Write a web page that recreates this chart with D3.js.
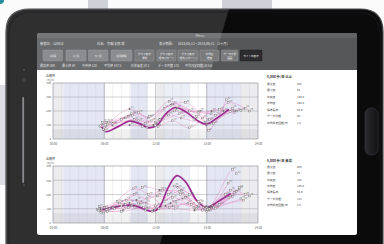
<!DOCTYPE html>
<html><head><meta charset="utf-8">
<script src="https://cdn.jsdelivr.net/npm/d3@7"></script>
<style>html,body{margin:0;padding:0;background:#fff;overflow:hidden}svg{display:block}text{font-family:"Noto Sans CJK JP","Noto Sans",sans-serif}</style>
</head><body><svg id="c" width="384" height="244"></svg>
<script>
// ---------- data ----------
const tickHours = [0, 6, 12, 18, 24];
const hourLabels = ["00:00", "06:00", "12:00", "18:00", "24:00"];
const yTickValues = [0, 100, 200, 300, 400];

const headerRow1 = [["患者ID:", 40], ["120812", 53], ["氏名:", 97], ["宗親 太郎 様", 107], ["表示期間:", 159], ["2013/05/11 ~ 2013/06/11 （1ヶ月）", 178]];
const buttonLabels = [["1週間"], ["1ヶ月"], ["3ヶ月"], ["任意期間"], ["グラフ表示", "通常"], ["グラフ表示", "曜日パターン"], ["グラフ表示", "曜日(パターン)"], ["平均値", "推移"], ["データ分析", "画面"], ["ラインの表示"]];
const summaryLabels = ["最高値 269", "最小値 34", "中央値 120", "平均値 147.5", "標準偏差 57.2", "データ件数 173", "平均測定回数/日 5.6"];

const statLabels = ["最大値", "最小値", "中央値", "平均値", "標準偏差", "データ件数", "平均測定回数/日"];
const stats1Title = "6,000 歩/日 以上";
const stats1Values = ["283", "54", "140.0", "150.0", "62.0", "60", "1.8"];
const stats2Title = "6,000 歩/日 未満";
const stats2Values = ["269", "54", "123", "146.8", "64.0", "113", "3.6"];

const bandHours = [0, 1.2, 6.1, 9.1, 11.1, 12.1, 13.1, 16, 17.9, 22, 24];
const bandKinds = ["g", "l", "w", "l", "w", "g", "l2", "w", "l", "g"];

const avg1 = [[5.7, 88], [6.2, 52], [7.5, 85], [9.0, 127], [10.2, 108], [11.2, 80], [12.2, 100], [13.2, 180], [14.3, 225], [15.6, 192], [17.0, 128], [18.0, 106], [19.2, 150], [20.6, 212]];
const thin1 = [
  [[5.5, 90], [6.5, 120], [9, 215], [11.2, 150], [13.6, 270], [16, 200], [18.5, 180]],
  [[5.8, 120], [7, 100], [9.3, 170], [11.5, 130], [14, 250], [17, 190], [19.5, 210], [21.5, 200]],
  [[6.2, 120], [8, 140], [10, 190], [12, 95], [14.5, 220], [17.5, 150], [18.2, 60], [20.3, 280]],
  [[6, 80], [9, 100], [10.5, 90], [11.8, 100], [13.5, 170], [15, 150], [17.8, 120], [20, 200], [22, 205]],
  [[5.9, 70], [8.5, 150], [11, 80], [12.5, 140], [14.2, 200], [16.5, 140], [18, 100], [21, 220]],
  [[6.4, 100], [9.5, 140], [12, 120], [14.8, 180], [17.2, 200], [19, 170], [22.5, 220]],
  [[6.1, 60], [9.2, 180], [11.3, 160], [13, 220], [15.5, 260], [18.3, 140], [20.8, 195]],
  [[7, 110], [10, 130], [12.3, 90], [14, 130], [16, 80], [18.6, 200], [21.2, 190]],
  [[5.6, 95], [8.8, 160], [10.8, 110], [13.8, 240], [16.8, 160], [18.8, 110], [20.5, 260], [23, 200]]
];

const avg2 = [[5.5, 95], [6.3, 100], [7.8, 118], [9.0, 125], [10.2, 110], [11.6, 82], [12.4, 105], [13.5, 250], [14.5, 332], [15.5, 290], [16.8, 160], [18.0, 108], [19.3, 150], [20.8, 207]];
const thin2 = [
  [[5.2, 95], [7, 110], [9.5, 200], [11, 170], [14.2, 260], [16, 200], [18, 100], [21, 375], [21.5, 345]],
  [[5.5, 85], [8, 120], [10.5, 250], [12.5, 230], [14.8, 220], [17, 120], [18.2, 95], [20.5, 280]],
  [[5.7, 100], [7.5, 150], [9.8, 160], [12, 120], [14, 180], [16.5, 110], [18.4, 90], [21.8, 240]],
  [[5.9, 70], [8.5, 130], [10.8, 90], [13, 150], [15, 230], [17.2, 140], [18, 110], [20.8, 230], [22.5, 200]],
  [[6.0, 110], [9, 140], [11.6, 80], [13.5, 200], [14.6, 250], [16.8, 100], [18.6, 120], [21.2, 215]],
  [[6.2, 90], [8.8, 110], [10.2, 130], [12.2, 190], [14.4, 150], [17.5, 90], [19, 100], [21.5, 220]],
  [[5.4, 115], [7.2, 100], [9.2, 120], [11, 100], [13.8, 140], [15.5, 180], [18, 80], [20.2, 200], [23, 190]],
  [[6.4, 80], [8.2, 90], [10, 140], [12.8, 230], [14.9, 200], [17, 150], [18.8, 110], [22, 170]],
  [[5.6, 75], [7.8, 140], [9.6, 110], [11.8, 90], [14.1, 120], [16.2, 130], [18.1, 95], [21.8, 250]],
  [[6.6, 100], [9.4, 240], [11.2, 200], [13.2, 120], [15.2, 170], [17.8, 100], [20.6, 180]],
  [[5.3, 90], [8, 80], [10.6, 110], [12.4, 100], [14.3, 100], [16.6, 90], [18.3, 100], [21, 185]],
  [[6.3, 95], [8.6, 160], [10.9, 140], [13.6, 110], [15.8, 140], [17.6, 110], [19.5, 130], [22.3, 160]]
];

// ---------- drawing ----------
const svg = d3.select("#c");
const defs = svg.append("defs");

// photo background
svg.append("rect").attr("width", 384).attr("height", 244).attr("fill", "#fbfbfc");
svg.append("rect").attr("x", 88).attr("y", 0).attr("width", 20).attr("height", 14).attr("fill", "#cfd0d8");
svg.append("rect").attr("x", 222).attr("y", 0).attr("width", 50).attr("height", 14).attr("fill", "#cfd0d8");
svg.append("rect").attr("x", 0).attr("y", 85).attr("width", 8).attr("height", 100).attr("fill", "#dcdde3");
svg.append("circle").attr("cx", 0).attr("cy", 0).attr("r", 4).attr("fill", "#2a8aa0");

// tablet body
const bodyPath = "M30,9 L360,9 Q383,9 383,32 L383,260 L6,260 L6,32 Q6,9 30,9 Z";
defs.append("clipPath").attr("id", "bodyClip").append("path").attr("d", bodyPath);
svg.append("path").attr("d", bodyPath).attr("fill", "#0b0b0c").attr("stroke", "#4a4a4d").attr("stroke-width", 1.2);
// reflection on the frame (left side lighter)
svg.append("polygon").attr("points", "0,0 229,0 229,9 160,244 0,244").attr("fill", "#ffffff").attr("opacity", 0.15)
  .attr("clip-path", "url(#bodyClip)");
svg.append("path").attr("d", "M33,12 L357,12 Q380,12 380,35 L380,260 L9,260 L9,35 Q9,12 33,12 Z")
  .attr("fill", "none").attr("stroke", "#1d1d1f").attr("stroke-width", 1.2).attr("opacity", 0.6);

// screen
svg.append("rect").attr("x", 37).attr("y", 33).attr("width", 320).attr("height", 202).attr("rx", 2.5).attr("fill", "#ffffff");
const headerPath = "M39.5,33 L354.5,33 Q357,33 357,35.5 L357,70 L37,70 L37,35.5 Q37,33 39.5,33 Z";
defs.append("clipPath").attr("id", "headClip").append("path").attr("d", headerPath);
svg.append("path").attr("d", headerPath).attr("fill", "#565759");
svg.append("rect").attr("x", 37).attr("y", 33).attr("width", 320).attr("height", 5).attr("fill", "#626365").attr("clip-path", "url(#headClip)");
svg.append("polygon").attr("points", "0,0 229,0 229,9 160,244 0,244").attr("fill", "#ffffff").attr("opacity", 0.12)
  .attr("clip-path", "url(#headClip)");

svg.append("text").attr("x", 200).attr("y", 37).attr("text-anchor", "middle").attr("font-size", 3.4).attr("fill", "#d8d8d8").text("Menu");

// header row 1
svg.append("g").selectAll("text").data(headerRow1).join("text")
  .attr("x", d => d[1]).attr("y", 44.5).attr("font-size", 3.2).attr("fill", "#e6e6e6").text(d => d[0]);

// buttons
const btnXs = [43, 66, 88.5, 111, 135, 157, 178, 200, 221.5, 240];
const btnWs = [19.5, 20, 19.5, 21, 19, 19, 20, 19, 16.5, 22];
const btn = svg.append("g").selectAll("g").data(buttonLabels).join("g");
btn.append("rect").attr("x", (d, i) => btnXs[i]).attr("y", 50).attr("width", (d, i) => btnWs[i]).attr("height", 11)
  .attr("rx", 0.6)
  .attr("fill", (d, i) => i === 9 ? "#2c2c2e" : (i < 4 ? "#8b8c8e" : "#7a7b7d"))
  .attr("stroke", (d, i) => i === 9 ? "#1a1a1a" : "#a3a4a6").attr("stroke-width", 0.4);
btn.each(function (d, i) {
  const g = d3.select(this);
  const cx = btnXs[i] + btnWs[i] / 2;
  d.forEach((t, k) => {
    g.append("text").attr("x", cx).attr("y", d.length === 1 ? 56.8 : 54.6 + k * 4)
      .attr("text-anchor", "middle").attr("font-size", 2.6).attr("fill", "#f0f0f0").text(t);
  });
});

// summary row
const sumX = [40, 62, 82, 104, 131, 158, 185];
svg.append("g").selectAll("text").data(summaryLabels).join("text")
  .attr("x", (d, i) => sumX[i]).attr("y", 67.3).attr("font-size", 3).attr("fill", "#e2e2e2").text(d => d);

// chart drawing
const x = d3.scaleLinear().domain([0, 24]).range([53, 258]);
const bandFill = { g: "#ececee", l: "#e4e6f3", l2: "#eceef7", w: "#ffffff" };

function drawChart(top, bottom, avg, thin, statsTitle, statsVals, statsTop, statsStep) {
  const y = d3.scaleLinear().domain([0, 400]).range([bottom, top]);
  const g = svg.append("g");
  g.selectAll("rect.band").data(bandKinds).join("rect").attr("class", "band")
    .attr("x", (d, i) => x(bandHours[i])).attr("width", (d, i) => x(bandHours[i + 1]) - x(bandHours[i]))
    .attr("y", top).attr("height", bottom - top).attr("fill", d => bandFill[d]);
  g.append("rect").attr("x", x(0)).attr("width", x(24) - x(0)).attr("y", y(70)).attr("height", y(0) - y(70))
    .attr("fill", "#8a8a95").attr("opacity", 0.13);
  g.selectAll("line.vm").data(d3.range(1, 24)).join("line").attr("class", "vm")
    .attr("x1", d => x(d)).attr("x2", d => x(d)).attr("y1", top).attr("y2", bottom)
    .attr("stroke", "#c9cad4").attr("stroke-width", 0.3);
  g.selectAll("line.vM").data(tickHours).join("line").attr("class", "vM")
    .attr("x1", d => x(d)).attr("x2", d => x(d)).attr("y1", top).attr("y2", bottom)
    .attr("stroke", "#8e8e96").attr("stroke-width", 0.4);
  g.selectAll("line.h").data(yTickValues).join("line").attr("class", "h")
    .attr("x1", x(0)).attr("x2", x(24)).attr("y1", d => y(d)).attr("y2", d => y(d))
    .attr("stroke", "#8e8e96").attr("stroke-width", 0.4);
  const ax = g.append("g").attr("transform", `translate(0,${bottom + 2})`)
    .call(d3.axisBottom(x).tickValues(tickHours).tickFormat((d, i) => hourLabels[i]).tickSize(0).tickPadding(1.5));
  ax.select(".domain").remove();
  ax.selectAll("text").attr("font-size", 3).attr("fill", "#666");
  const ay = g.append("g").attr("transform", `translate(${x(0) - 1},0)`)
    .call(d3.axisLeft(y).tickValues(yTickValues).tickSize(0).tickPadding(1));
  ay.select(".domain").remove();
  ay.selectAll("text").attr("font-size", 2.8).attr("fill", "#666");
  g.append("text").attr("x", 46).attr("y", top - 6).attr("font-size", 3).attr("fill", "#555").text("血糖値");
  g.append("text").attr("x", 47).attr("y", top - 2.2).attr("font-size", 2.4).attr("fill", "#777").text("mg/dL");

  const line = d3.line().x(d => x(d[0])).y(d => y(d[1])).curve(d3.curveCatmullRom.alpha(0.5));
  g.selectAll("path.thin").data(thin).join("path").attr("class", "thin").attr("d", line)
    .attr("fill", "none").attr("stroke", "#e06fb4").attr("stroke-opacity", 0.6).attr("stroke-width", 0.55);
  g.append("path").attr("d", line(avg)).attr("fill", "none").attr("stroke", "#9c2b8f").attr("stroke-width", 1.7);
  const pts = thin.flat();
  g.selectAll("rect.pt").data(pts).join("rect").attr("class", "pt")
    .attr("x", d => x(d[0]) - 0.9).attr("y", d => y(d[1]) - 0.9).attr("width", 1.8).attr("height", 1.8)
    .attr("fill", "#f4f4f4").attr("stroke", "#6f6f73").attr("stroke-width", 0.4);
  g.selectAll("text.pl").data(pts).join("text").attr("class", "pl")
    .attr("x", d => x(d[0]) + 1.1).attr("y", d => y(d[1]) - 0.8).attr("font-size", 1.6).attr("fill", "#666")
    .text(d => d[1]);
  g.append("rect").attr("x", x(0)).attr("y", top).attr("width", x(24) - x(0)).attr("height", bottom - top)
    .attr("fill", "none").attr("stroke", "#a8a8b0").attr("stroke-width", 0.4);

  g.append("text").attr("x", 267).attr("y", statsTop - 6.5).attr("font-size", 3.3).attr("font-weight", "bold").attr("fill", "#333").text(statsTitle);
  g.selectAll("text.sl").data(statLabels).join("text").attr("class", "sl")
    .attr("x", 267).attr("y", (d, i) => statsTop + i * statsStep).attr("font-size", 2.8).attr("fill", "#444").text(d => d);
  g.selectAll("text.sv").data(statsVals).join("text").attr("class", "sv")
    .attr("x", 297).attr("y", (d, i) => statsTop + i * statsStep).attr("font-size", 2.8).attr("fill", "#444").text(d => d);
}

drawChart(83, 139, avg1, thin1, stats1Title, stats1Values, 84.5, 6.5);
drawChart(166, 223, avg2, thin2, stats2Title, stats2Values, 168, 6.3);

// tablet hardware details
svg.append("circle").attr("cx", 24).attr("cy", 70).attr("r", 0.9).attr("fill", "#5a5a5d");
svg.append("circle").attr("cx", 24).attr("cy", 80).attr("r", 1.7).attr("fill", "#3a3a3d").attr("stroke", "#66666a").attr("stroke-width", 0.4);
svg.append("rect").attr("x", 22.3).attr("y", 97).attr("width", 1.8).attr("height", 86).attr("rx", 0.9).attr("fill", "#8a8a8e");
svg.append("circle").attr("cx", 24).attr("cy", 185).attr("r", 0.8).attr("fill", "#5a5a5d");
const hb = defs.append("linearGradient").attr("id", "hb").attr("x1", 0).attr("x2", 1);
hb.append("stop").attr("offset", 0).attr("stop-color", "#2c2c30");
hb.append("stop").attr("offset", 1).attr("stop-color", "#121214");
svg.append("rect").attr("x", 365).attr("y", 108).attr("width", 13).attr("height", 47).attr("rx", 6)
  .attr("fill", "url(#hb)").attr("stroke", "#3a3a3e").attr("stroke-width", 0.6);
</script></body></html>
